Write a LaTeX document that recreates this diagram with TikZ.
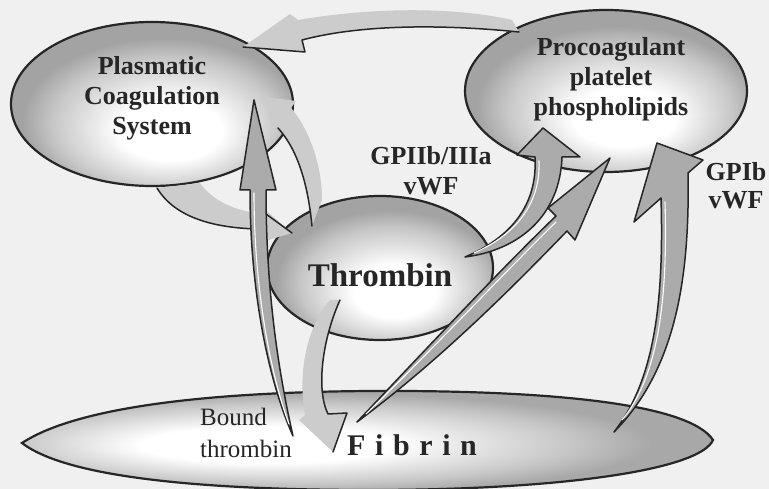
\documentclass[tikz,border=0pt]{standalone}
\usepackage{fontspec}
\setmainfont{Liberation Serif}
\usetikzlibrary{shapes.geometric}
\pgfdeclareradialshading{ellshade}{\pgfpoint{4bp}{-10bp}}{color(0bp)=(white); color(9bp)=(white); color(20bp)=(black!22); color(25bp)=(black!36); color(50bp)=(black!36)}
\pgfdeclareradialshading{fibshade}{\pgfpoint{-9bp}{-3bp}}{color(0bp)=(white); color(9bp)=(white); color(20bp)=(black!22); color(25bp)=(black!34); color(50bp)=(black!34)}
\begin{document}
\begin{tikzpicture}[x=1pt,y=-1pt,
  blob/.style={ellipse, draw=black!85, line width=2.2pt, shade, shading=ellshade, inner sep=0pt},
  lbl/.style={font=\fontsize{26}{30}\selectfont\bfseries, text=black!85, align=center, inner sep=0pt},
  darkarrow/.style={fill=black!33, draw=black!85, line width=1.5pt, line join=round},
  lightarrow/.style={fill=black!20},
  rim/.style={draw=black!85, line width=1.5pt, line cap=round, line join=round},
  gleam/.style={draw=white, line width=1.1pt, line cap=round}
]
\fill[black!6] (0,0) rectangle (769,489);
\useasboundingbox (0,0) rectangle (769,489);

% main bodies
\node[blob, minimum width=282pt, minimum height=164pt] (plas) at (152,104) {};
\node[blob, minimum width=282pt, minimum height=162pt] (proc) at (606,91) {};
\node[blob, minimum width=226pt, minimum height=144pt] (thr) at (380,268) {};
\path[shade, shading=fibshade, draw=black!85, line width=2.2pt]
  (22,443) .. controls (80,405) and (220,392) .. (370,391)
  .. controls (560,390) and (690,405) .. (713,440)
  .. controls (700,470) and (560,490) .. (370,490)
  .. controls (220,490) and (70,480) .. (22,443) -- cycle;
\coordinate (fib) at (367,440);

% top arrow: procoagulant -> plasmatic
\fill[lightarrow] (243,47) -- (290,14) -- (298,20) .. controls (380,6) and (460,8) .. (512,20)
  -- (519,32) .. controls (460,26) and (370,22) .. (302,40) -- (305,52) -- cycle;
\draw[rim] (519,32) .. controls (460,26) and (370,22) .. (302,40) -- (305,52) -- (243,47);

% plasmatic -> thrombin
\fill[lightarrow] (157,188) .. controls (175,218) and (215,228) .. (258,229) -- (255,244) -- (292,233)
  -- (262,207) -- (262,213) .. controls (235,212) and (212,200) .. (200,183) -- cycle;
\draw[rim] (157,188) .. controls (175,218) and (215,228) .. (258,229);
\draw[rim] (266,214) -- (292,233);

% thrombin -> plasmatic
\fill[lightarrow] (312,226) .. controls (308,185) and (298,150) .. (278,128) -- (271,124) -- (266,97)
  -- (296,101) -- (291,108) .. controls (306,125) and (322,160) .. (322,200) -- cycle;
\draw[rim] (312,226) .. controls (308,185) and (298,150) .. (278,128);

% thrombin -> fibrin
\fill[lightarrow] (340,300) .. controls (322,340) and (316,390) .. (328,414) -- (347,413) -- (333,452)
  -- (299,420) -- (305,415) .. controls (298,375) and (305,330) .. (330,300) -- cycle;
\draw[rim] (340,300) .. controls (322,340) and (316,390) .. (328,414) -- (347,413) -- (333,452);

% bound thrombin -> plasmatic
\filldraw[darkarrow] (293,436) .. controls (278,370) and (266,290) .. (266,190) -- (276,190) -- (254,100)
  -- (240,190) -- (250,190) .. controls (250,290) and (268,380) .. (293,436) -- cycle;
\draw[gleam] (254,193) .. controls (254,290) and (271,376) .. (289,424);

% thrombin -> procoagulant (GPIIb/IIIa)
\filldraw[darkarrow] (465,257) .. controls (505,240) and (538,210) .. (535,157) -- (517,155) -- (543,128)
  -- (580,157) -- (562,157) .. controls (560,215) and (520,250) .. (465,257) -- cycle;
\draw[gleam] (474,253) .. controls (508,238) and (541,210) .. (539,161);

% fibrin -> procoagulant
\filldraw[darkarrow] (357,422) .. controls (430,345) and (500,270) .. (556,216) -- (548,208) -- (610,158)
  -- (575,240) -- (567,231) .. controls (510,290) and (440,360) .. (357,422) -- cycle;
\draw[gleam] (366,414) .. controls (434,348) and (502,275) .. (556,222);

% fibrin -> procoagulant (GPIb)
\filldraw[darkarrow] (614,432) .. controls (655,380) and (664,300) .. (661,198) -- (634,222) -- (657,143)
  -- (703,160) -- (688,173) .. controls (690,280) and (675,370) .. (614,432) -- cycle;
\draw[gleam] (622,420) .. controls (658,377) and (668,300) .. (665,202);

% labels (anchor base = baseline of last line)
\node[lbl, anchor=base] (plaslbl) at (152,135) {Plasmatic\\Coagulation\\System};
\node[lbl, anchor=base] (proclbl) at (611,116) {Procoagulant\\platelet\\phospholipids};
\node[lbl, anchor=base] (gp2lbl) at (431,195) {GPIIb/IIIa\\vWF};
\node[lbl, font=\fontsize{26}{28}\selectfont\bfseries, anchor=base] (gp1lbl) at (736,209) {GPIb\\vWF};
\node[lbl, font=\fontsize{33}{36}\selectfont\bfseries, anchor=base] (thrlbl) at (380,287) {Thrombin};
\node[font=\fontsize{25}{32}\selectfont, text=black!85, align=left, anchor=base west, inner sep=0pt] (boundlbl) at (200,457) {Bound\\thrombin};
\node[lbl, font=\fontsize{30}{32}\selectfont\bfseries, anchor=base west] (fiblbl) at (347,455) {\spaceskip=9.6pt\relax F i b r i n};
\end{tikzpicture}
\end{document}
